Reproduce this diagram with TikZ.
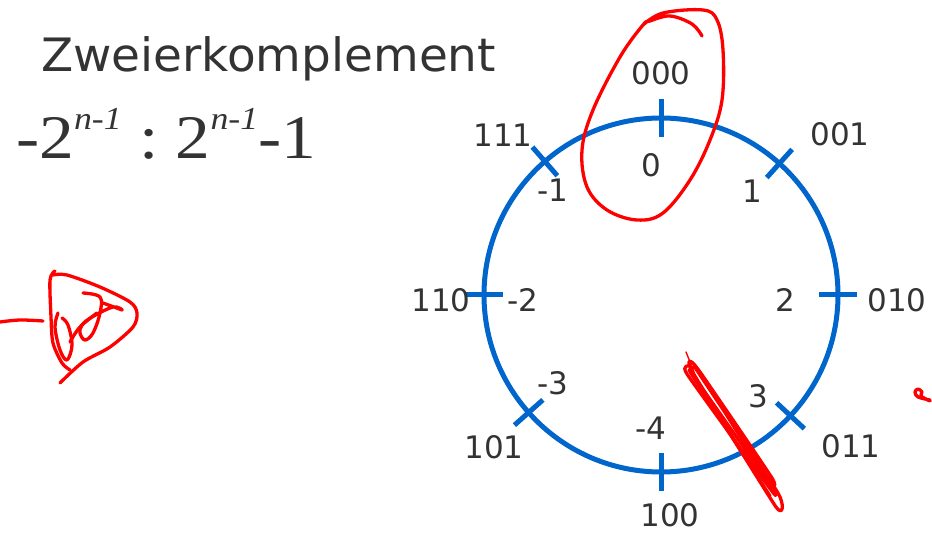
\documentclass[tikz,border=0pt]{standalone}
\usepackage{fontspec}
\usepackage{graphicx}
\setmainfont{DejaVu Sans}
\newfontfamily\timesf{Liberation Serif}
\definecolor{ringblue}{RGB}{0,102,204}
\definecolor{txtgray}{RGB}{51,51,51}
\begin{document}
\begin{tikzpicture}[x=1pt,y=-1pt,
  lbl/.style={font=\fontsize{31}{31}\selectfont, text=txtgray, inner sep=0pt, anchor=base},
  ring/.style={draw=ringblue, line width=5pt},
  tickline/.style={draw=ringblue, line width=5pt},
  ink/.style={draw=red, line width=3.3pt, line cap=round, line join=round}]
\useasboundingbox (0,0) rectangle (932,534);

% title and formula
\node[inner sep=0pt, anchor=base west, text=txtgray] (title) at (41,72)
  {\scalebox{1.02}[1]{\fontsize{46}{46}\selectfont Zweierkomplement}};
\node[inner sep=0pt, anchor=base west, text=txtgray] (formula) at (16,159)
  {\scalebox{1.12}[1]{\timesf\fontsize{62}{62}\selectfont -2\raisebox{29pt}{\fontsize{32}{32}\selectfont\itshape n-1}\hspace{16pt}:\hspace{15pt}2\raisebox{29pt}{\fontsize{32}{32}\selectfont\itshape n-1}-1}};

% ring
\coordinate (c) at (661,295);
\draw[ring] (c) circle[radius=177];
\foreach \a in {-90,-48,0,43,90,138.4,180,-131}
  \draw[tickline, shift={(c)}] (\a:158) -- (\a:196);

% labels
\node[lbl] (b000) at (661,85) {000};
\node[lbl] (d0)   at (651,177) {0};
\node[lbl] (b111) at (503,147) {111};
\node[lbl] (dm1)  at (553,202) {-1};
\node[lbl] (b001) at (840,146) {001};
\node[lbl] (d1)   at (752,203) {1};
\node[lbl] (b010) at (897,312) {010};
\node[lbl] (d2)   at (785,312) {2};
\node[lbl] (b110) at (441,312) {110};
\node[lbl] (dm2)  at (523,312) {-2};
\node[lbl] (dm3)  at (553,395) {-3};
\node[lbl] (b101) at (494,458) {101};
\node[lbl] (dm4)  at (651,440) {-4};
\node[lbl] (b100) at (670,526) {100};
\node[lbl] (d3)   at (758,408) {3};
\node[lbl] (b011) at (851,457) {011};

% red handwriting
\draw[ink] plot[smooth, tension=0.6] coordinates {(643,25) (663,13) (703,10) (717,20) (723,50) (722,100) (710,140) (690,180) (663,213) (637,220) (607,210) (587,187) (582,150) (593,110) (620,57) (643,25) (650,21) (670,16) (692,24) (702,36)};

\draw[ink] plot[smooth, tension=0.6] coordinates {(0,322) (20,320) (43,321)};
\draw[ink] plot[smooth, tension=0.5] coordinates {(55,271) (50,280) (51,317) (53,343) (62,363) (70,370)};
\draw[ink] plot[smooth, tension=0.5] coordinates {(53,275) (67,275) (100,287) (130,302) (137,313) (133,327) (110,347) (83,362) (60,383)};
\draw[ink] plot[smooth, tension=0.6] coordinates {(58,313) (55,327) (60,350) (67,360) (72,345) (68,325) (62,318)};
\draw[ink] plot[smooth, tension=0.6] coordinates {(83,293) (100,297) (100,313) (93,333) (85,340) (80,333) (82,325) (92,317) (113,307) (122,310) (103,303)};
\draw[ink] plot[smooth, tension=0.6] coordinates {(70,342) (80,327) (97,313)};

\draw[ink, line width=1.4pt] (686,352) -- (694,372);
\draw[ink] plot[smooth, tension=0.3] coordinates {(690,366) (687,374) (768,486) (773,490) (697,368) (692,371) (776,507) (778,493) (694,366)};
\draw[ink] plot[smooth, tension=0.3] coordinates {(693,368) (700,372) (772,478) (767,480) (689,370) (770,496)};

\draw[ink] plot[smooth, tension=0.6] coordinates {(930,400) (918,397) (915,392) (918,389) (922,392) (921,396) (930,401)};
\end{tikzpicture}
\end{document}
